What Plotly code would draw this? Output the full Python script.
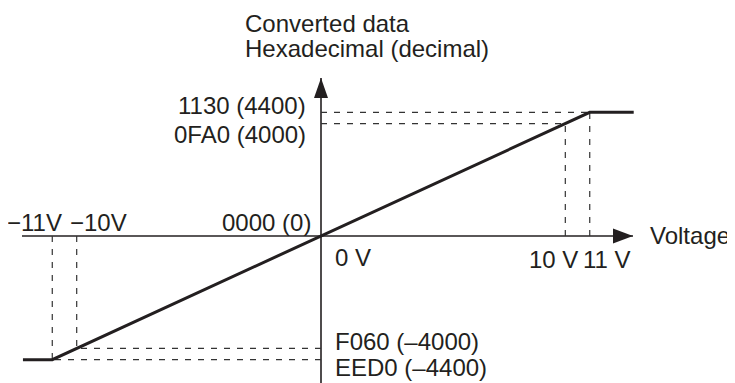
import plotly.graph_objects as go

# transfer characteristic: input voltage -> converted data
voltage = [-12.2, -11, 11, 12.8]
converted = [-4400, -4400, 4400, 4400]

# reference points marked with dashed guides
guide_v = [-11, -10, 10, 11]
guide_d = [-4400, -4000, 4000, 4400]

y_tick_vals = [4400, 4000, 0, -4000, -4400]
y_tick_text = ["1130 (4400)", "0FA0 (4000)", "0000 (0)", "F060 (–4000)", "EED0 (–4400)"]
x_tick_vals = [-11, -10, 0, 10, 11]
x_tick_text = ["−11V", "−10V", "0 V", "10 V", "11 V"]

x_axis_span = [-12.24, 12.77]
y_axis_span = [-6000, 5622]

ink = "#231f20"
font = dict(family="Liberation Sans, Arial, sans-serif", size=24, color=ink)

fig = go.Figure()

fig.add_trace(go.Scatter(
    x=voltage, y=converted, mode="lines",
    line=dict(color=ink, width=3), hoverinfo="skip", showlegend=False
))

shapes = []
# axes
shapes.append(dict(type="line", x0=x_axis_span[0], x1=x_axis_span[1], y0=0, y1=0,
                   line=dict(color=ink, width=1.6), layer="below"))
shapes.append(dict(type="line", x0=0, x1=0, y0=y_axis_span[0], y1=y_axis_span[1],
                   line=dict(color=ink, width=1.6), layer="below"))
# arrowheads
shapes.append(dict(type="path", xsizemode="pixel", ysizemode="pixel",
                   xanchor=x_axis_span[1], yanchor=0,
                   path="M0,0 L-20,7.5 L-20,-7.5 Z", fillcolor=ink, line=dict(width=0)))
shapes.append(dict(type="path", xsizemode="pixel", ysizemode="pixel",
                   xanchor=0, yanchor=y_axis_span[1],
                   path="M0,0 L-7,-20 L7,-20 Z", fillcolor=ink, line=dict(width=0)))

# dashed guides
dash = dict(color="#333333", width=1.2, dash="6px,7px")
for v, d in zip(guide_v, guide_d):
    shapes.append(dict(type="line", x0=0, x1=v, y0=d, y1=d, line=dash, layer="below"))
    shapes.append(dict(type="line", x0=v, x1=v, y0=0, y1=d, line=dash, layer="below"))

annotations = []
# y value labels (left of axis above zero, right of axis below zero)
y_offsets = {4400: (-13, 7), 4000: (-13, -11), 0: (-8, 14), -4000: (12, 7), -4400: (12, -8)}
for val, txt in zip(y_tick_vals, y_tick_text):
    dx, dy = y_offsets[val]
    annotations.append(dict(x=0, y=val, text=txt, showarrow=False,
                            xanchor="right" if dx < 0 else "left", yanchor="middle",
                            xshift=dx, yshift=dy, font=font))

x_offsets = {-11: (-18, 14), -10: (22, 14), 0: (None, -21), 10: (-12, -23), 11: (17, -23)}
for val, txt in zip(x_tick_vals, x_tick_text):
    dx, dy = x_offsets[val]
    if dx is None:
        annotations.append(dict(x=val, y=0, text=txt, showarrow=False, xanchor="left",
                                yanchor="middle", xshift=12, yshift=dy, font=font))
    else:
        annotations.append(dict(x=val, y=0, text=txt, showarrow=False, xanchor="center",
                                yanchor="middle", xshift=dx, yshift=dy, font=font))

annotations.append(dict(x=x_axis_span[1], y=0, text="Voltage", showarrow=False,
                        xanchor="left", yanchor="middle", xshift=15, yshift=1, font=font))
annotations.append(dict(x=0, y=y_axis_span[1], text="Converted data", showarrow=False,
                        xanchor="left", yanchor="middle", xshift=-78, yshift=55, font=font))
annotations.append(dict(x=0, y=y_axis_span[1], text="Hexadecimal (decimal)", showarrow=False,
                        xanchor="left", yanchor="middle", xshift=-78, yshift=30, font=font))

# the page adds an 8px body margin, so the figure is drawn 8px smaller
fig.update_layout(
    width=727, height=375,
    margin=dict(l=0, r=0, t=0, b=0),
    paper_bgcolor="white", plot_bgcolor="white",
    xaxis=dict(range=[-12.812, 16.946], visible=False, fixedrange=True),
    yaxis=dict(range=[-5231, 8113], visible=False, fixedrange=True),
    shapes=shapes, annotations=annotations,
    showlegend=False,
)

fig.write_html("out.html")
